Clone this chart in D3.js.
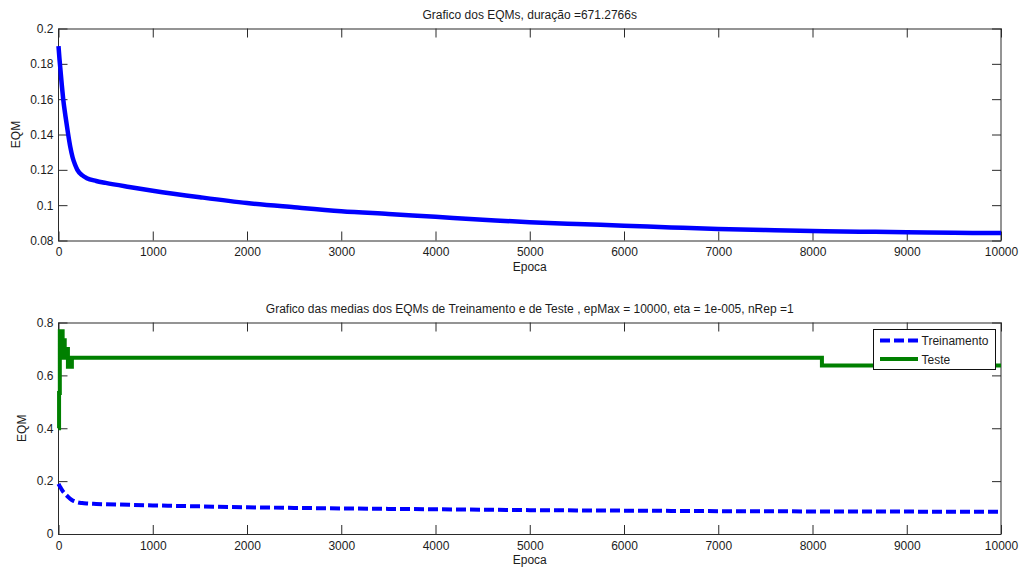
<!DOCTYPE html>
<html>
<head>
<meta charset="utf-8">
<script src="https://cdn.jsdelivr.net/npm/d3@7"></script>
<style>
  html, body { margin: 0; padding: 0; background: #fff; }
  svg text { font-family: "Liberation Sans", Arial, sans-serif; fill: #1c1c1c; }
</style>
</head>
<body>
<svg id="fig" width="1022" height="569"></svg>
<script>
// EQM per epoch (training run)
const epocas = [0, 10, 20, 35, 50, 75, 100, 125, 150, 175, 200, 250, 300, 400, 500, 750,
  1000, 1500, 2000, 2500, 3000, 3500, 4000, 4500, 5000, 5500, 6000, 6500, 7000, 7500,
  8000, 8500, 9000, 9500, 10000];
const eqm = [0.190, 0.183, 0.177, 0.168, 0.160, 0.150, 0.141, 0.133, 0.127, 0.123, 0.120,
  0.117, 0.1153, 0.1137, 0.1126, 0.1103, 0.1082, 0.1045, 0.1012, 0.0988, 0.0966, 0.0950,
  0.0934, 0.0918, 0.0903, 0.0893, 0.0884, 0.0874, 0.0865, 0.0859, 0.0854, 0.0850, 0.0847,
  0.0844, 0.0842];

// mean training EQM (nRep = 1)
const treinoEpocas = epocas;
const treinoMedia = eqm;

// mean test EQM, stepwise values from the change points
const testeEpocas = [0, 6, 14, 30, 36, 44, 54, 66, 78, 86, 100, 142, 8100, 10000];
const testeMedia = [0.4, 0.533, 0.767, 0.7, 0.767, 0.667, 0.733, 0.7, 0.667, 0.7, 0.633,
  0.667, 0.637, 0.637];

// tick values
const xTicks = [0, 1000, 2000, 3000, 4000, 5000, 6000, 7000, 8000, 9000, 10000];
const yTicksTop = [0.08, 0.1, 0.12, 0.14, 0.16, 0.18, 0.2];
const yTicksBottom = [0, 0.2, 0.4, 0.6, 0.8];

const titleTop = "Grafico dos EQMs, duração =671.2766s";
const titleBottom = "Grafico das medias dos EQMs de Treinamento e de Teste , epMax = 10000, eta = 1e-005, nRep =1";
const legendLabels = ["Treinamento", "Teste"];

const svg = d3.select("#fig");
const left = 58.5, right = 1001;
const fmt = d3.format("~g");
const TICK = 9;

function panel(top, bottom, yDomain, yTicks, title) {
  const x = d3.scaleLinear().domain([0, 10000]).range([left, right]);
  const y = d3.scaleLinear().domain(yDomain).range([bottom, top]);
  const g = svg.append("g");

  // axes with inward ticks on all four sides
  const ax = [
    g.append("g").attr("transform", `translate(0,${bottom})`)
      .call(d3.axisBottom(x).tickValues(xTicks).tickFormat(fmt).tickSizeInner(-TICK).tickSizeOuter(0).tickPadding(7)),
    g.append("g").attr("transform", `translate(0,${top})`)
      .call(d3.axisTop(x).tickValues(xTicks).tickFormat("").tickSizeInner(-TICK).tickSizeOuter(0)),
    g.append("g").attr("transform", `translate(${left},0)`)
      .call(d3.axisLeft(y).tickValues(yTicks).tickFormat(fmt).tickSizeInner(-TICK).tickSizeOuter(0).tickPadding(5)),
    g.append("g").attr("transform", `translate(${right},0)`)
      .call(d3.axisRight(y).tickValues(yTicks).tickFormat("").tickSizeInner(-TICK).tickSizeOuter(0))
  ];
  ax.forEach(a => {
    a.select(".domain").remove();
    a.selectAll("line").attr("stroke", "#2a2a2a");
    a.selectAll("text").attr("font-size", 12).attr("fill", "#1c1c1c");
  });

  g.append("rect")
    .attr("x", left).attr("y", top + 0.5)
    .attr("width", right - left).attr("height", bottom - top)
    .attr("fill", "none").attr("stroke", "#2a2a2a").attr("stroke-width", 1);

  g.append("text").attr("x", (left + right) / 2).attr("y", top - 10)
    .attr("text-anchor", "middle").attr("font-size", 12).text(title);
  g.append("text").attr("x", (left + right) / 2).attr("y", bottom + 30)
    .attr("text-anchor", "middle").attr("font-size", 12).text("Epoca");

  return { x, y, g };
}

// upper panel
const p1 = panel(28.5, 240.5, [0.08, 0.2], yTicksTop, titleTop);
p1.g.append("text")
  .attr("transform", `translate(19.5,${(28.5 + 240.5) / 2}) rotate(-90)`)
  .attr("text-anchor", "middle").attr("font-size", 12).text("EQM");

const line1 = d3.line().x((d, i) => p1.x(epocas[i])).y(d => p1.y(d)).curve(d3.curveMonotoneX);
p1.g.append("path").datum(eqm).attr("d", line1)
  .attr("fill", "none").attr("stroke", "#0000ff").attr("stroke-width", 4.5);

// lower panel
const p2 = panel(322.5, 534, [0, 0.8], yTicksBottom, titleBottom);
p2.g.append("text")
  .attr("transform", `translate(25.5,${(322.5 + 534) / 2}) rotate(-90)`)
  .attr("text-anchor", "middle").attr("font-size", 12).text("EQM");

const lineTreino = d3.line().x((d, i) => p2.x(treinoEpocas[i])).y(d => p2.y(d)).curve(d3.curveMonotoneX);
p2.g.append("path").datum(treinoMedia).attr("d", lineTreino)
  .attr("fill", "none").attr("stroke", "#0000ff").attr("stroke-width", 4)
  .attr("stroke-dasharray", "10,4");

const lineTeste = d3.line().x((d, i) => p2.x(testeEpocas[i])).y(d => p2.y(d)).curve(d3.curveStepAfter);
p2.g.append("path").datum(testeMedia).attr("d", lineTeste)
  .attr("fill", "none").attr("stroke", "#008000").attr("stroke-width", 4);

// legend
const lg = svg.append("g").attr("transform", "translate(873.5,329.5)");
lg.append("rect").attr("width", 122).attr("height", 40)
  .attr("fill", "#fff").attr("stroke", "#111").attr("stroke-width", 1);
const legendStyles = [
  { color: "#0000ff", dash: "10,4" },
  { color: "#008000", dash: null }
];
legendLabels.forEach((lab, i) => {
  const yy = 11 + i * 18.5;
  lg.append("line").attr("x1", 6.5).attr("x2", 44.5).attr("y1", yy).attr("y2", yy)
    .attr("stroke", legendStyles[i].color).attr("stroke-width", 4)
    .attr("stroke-dasharray", legendStyles[i].dash);
  lg.append("text").attr("x", 48).attr("y", yy + 4.5).attr("font-size", 12).text(lab);
});
</script>
</body>
</html>
